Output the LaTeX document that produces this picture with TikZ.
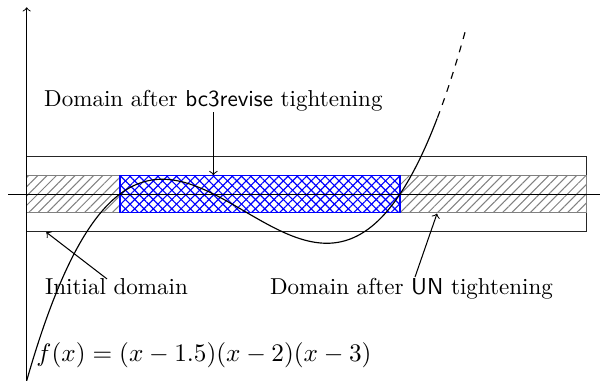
\documentclass[tikz,border=0pt]{standalone}
\usetikzlibrary{patterns.meta}
\begin{document}
\begin{tikzpicture}[x=81pt,y=81pt,
  lbl/.style={inner sep=1pt, anchor=base},
  axisline/.style={line width=0.4pt},
  curveline/.style={line width=0.5pt},
  pointer/.style={->, line width=0.45pt},
  hatchne/.style={pattern={Lines[angle=45,distance=2.85pt,line width=0.45pt]}},
  hatchnw/.style={pattern={Lines[angle=-45,distance=2.85pt,line width=0.5pt]}}]
\useasboundingbox (0.857,-1.0) rectangle (4.071,1.039);
% outer (initial) domain box
\draw[black!85, line width=0.5pt] (1,-0.2) rectangle (4,0.2);
% UN-tightened domain (grey hatch)
\fill[hatchne, pattern color=gray] (1,-0.1) rectangle (4,0.1);
\draw[gray, line width=0.5pt] (1,-0.1) rectangle (4,0.1);
% bc3revise-tightened domain (blue crosshatch)
\fill[white] (1.5,-0.1) rectangle (3,0.1);
\fill[pattern={Lines[angle=45,distance=2.85pt,line width=0.5pt]}, pattern color=blue] (1.5,-0.1) rectangle (3,0.1);
\fill[hatchnw, pattern color=blue] (1.5,-0.1) rectangle (3,0.1);
\draw[blue, line width=0.5pt] (1.5,-0.1) rectangle (3,0.1);
% axes
\coordinate (xa0) at (0.9,0);
\coordinate (xa1) at (4.1,0);
\coordinate (ya0) at (1,-1);
\coordinate (ya1) at (1,1);
\draw[axisline,->] (xa0) -- (xa1);
\draw[axisline,->] (ya0) -- (ya1);
% function
\draw[curveline] plot[domain=1:3.2, samples=120, smooth] (\x,{(\x-1.5)*(\x-2)*(\x-3)});
\draw[curveline, dashed] plot[domain=3.2:3.35, samples=20, smooth] (\x,{(\x-1.5)*(\x-2)*(\x-3)});
% labels
\node[lbl] (bc) at (2.0,0.469) {Domain after \textsf{bc3revise} tightening};
\node[lbl] (ini) at (1.481,-0.536) {Initial domain};
\node[lbl] (un) at (3.061,-0.536) {Domain after \textsf{UN} tightening};
\node[inner sep=0pt, anchor=base west, font=\fontsize{11}{13}\selectfont] (fx) at (1.05,-0.898) {$f(x)=(x-1.5)(x-2)(x-3)$};
% pointers
\coordinate (bcfrom) at (2,0.439);
\coordinate (bcto) at (2,0.1);
\coordinate (inifrom) at (1.43,-0.455);
\coordinate (inito) at (1.105,-0.205);
\coordinate (unfrom) at (3.08,-0.445);
\coordinate (unto) at (3.198,-0.105);
\draw[pointer] (bcfrom) -- (bcto);
\draw[pointer] (inifrom) -- (inito);
\draw[pointer] (unfrom) -- (unto);
\end{tikzpicture}
\end{document}
